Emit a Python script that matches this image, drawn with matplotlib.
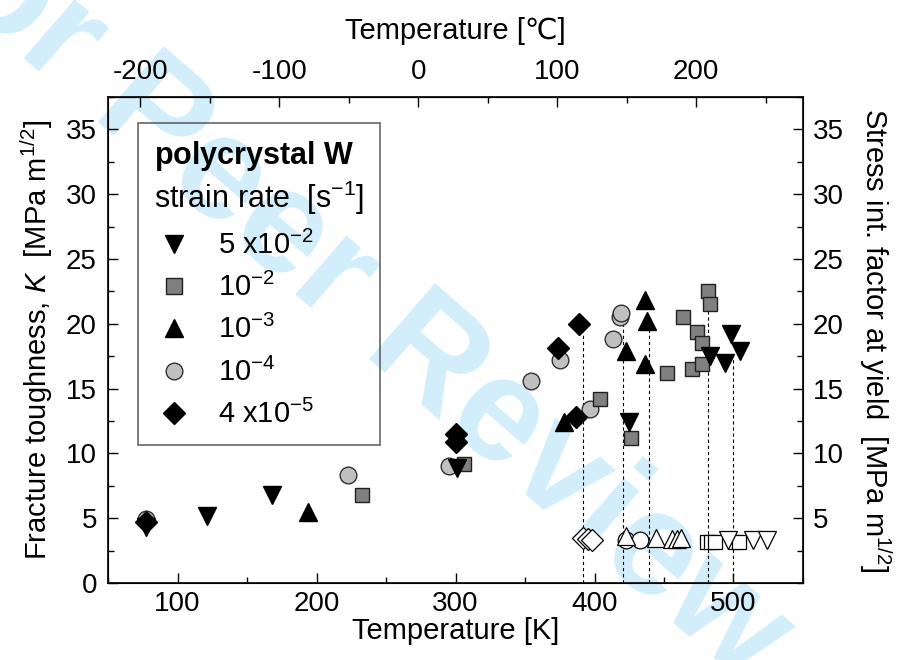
import numpy as np
import matplotlib
matplotlib.use("Agg")
import matplotlib.pyplot as plt
from matplotlib.lines import Line2D

plt.rcParams['font.family'] = ['Liberation Sans', 'DejaVu Sans']
plt.rcParams['mathtext.fontset'] = 'custom'
plt.rcParams['mathtext.rm'] = 'Liberation Sans'
plt.rcParams['mathtext.it'] = 'Liberation Sans:italic'
plt.rcParams['mathtext.bf'] = 'Liberation Sans:bold'
plt.rcParams['axes.unicode_minus'] = False

# fracture toughness K [MPa m^1/2] vs temperature [K], per strain rate
rates = ['5 x10$^{-2}$', '10$^{-2}$', '10$^{-3}$', '10$^{-4}$', '4 x10$^{-5}$']

T_5e2 = [77, 121, 168, 301, 425, 483, 494, 498, 505]
K_5e2 = [4.3, 5.2, 6.8, 8.9, 12.4, 17.5, 17.0, 19.2, 17.9]

T_1e2 = [233, 306, 404, 426, 452, 464, 474, 477, 470, 477, 482, 483]
K_1e2 = [6.8, 9.2, 14.2, 11.2, 16.2, 20.5, 19.4, 18.5, 16.5, 16.9, 22.5, 21.5]

T_1e3 = [194, 378, 423, 436, 438, 436]
K_1e3 = [5.5, 12.4, 17.9, 21.8, 20.2, 16.9]

T_1e4 = [77, 223, 295, 354, 375, 397, 413, 418, 419]
K_1e4 = [4.9, 8.3, 9.0, 15.6, 17.2, 13.4, 18.8, 20.5, 20.8]

T_4e5 = [77, 300, 300, 374, 387, 389]
K_4e5 = [4.7, 11.5, 10.9, 18.1, 12.8, 20.0]

# stress intensity factor at yield (right axis), open symbols
Ty_5e2 = [496, 514, 524]
Ky_5e2 = [3.3, 3.3, 3.3]
Ty_1e2 = [481, 484, 487, 501, 504]
Ky_1e2 = [3.2, 3.2, 3.2, 3.2, 3.2]
Ty_1e3 = [423, 444, 456, 459, 462]
Ky_1e3 = [3.6, 3.5, 3.4, 3.4, 3.5]
Ty_1e4 = [423, 433]
Ky_1e4 = [3.3, 3.3]
Ty_4e5 = [392, 395, 398]
Ky_4e5 = [3.5, 3.4, 3.3]

# dashed guide lines from yield temperatures up to the data
T_guide = [392, 420.5, 439, 482, 500]
K_guide = [19.4, 20.0, 19.7, 21.0, 17.3]

fig = plt.figure(figsize=(8.98, 6.6), dpi=100)
fig.text(0.375, 0.575, 'For Peer Review', rotation=-41, fontsize=106, fontweight='bold',
         color='#d3eefb', ha='center', va='center', zorder=-1)

ax = fig.add_axes([0.1203, 0.1167, 0.7739, 0.7363])
ax.patch.set_alpha(0)

for x, y in zip(T_guide, K_guide):
    ax.plot([x, x], [0, y], ls=(0, (3, 2.5)), color='k', lw=0.8, zorder=1)

ms = 13
ax.plot(T_1e4, K_1e4, 'o', ms=12, mfc='#c0c0c0', mec='#303030', mew=1, ls='none', zorder=3)
ax.plot(T_1e2, K_1e2, 's', ms=10.5, mfc='#808080', mec='#202020', mew=1, ls='none', zorder=3)
ax.plot(T_1e3, K_1e3, '^', ms=ms, color='k', ls='none', zorder=3)
ax.plot(T_5e2, K_5e2, 'v', ms=ms, color='k', ls='none', zorder=3)
ax.plot(T_4e5, K_4e5, 'D', ms=11, color='k', ls='none', zorder=3)

op = dict(mfc='white', mec='k', mew=0.9, ls='none', zorder=3)
ax.plot(Ty_4e5, Ky_4e5, 'D', ms=11, **op)
ax.plot(Ty_1e4, Ky_1e4, 'o', ms=12, **op)
ax.plot(Ty_1e3, Ky_1e3, '^', ms=ms, **op)
ax.plot(Ty_1e2, Ky_1e2, 's', ms=10.5, **op)
ax.plot(Ty_5e2, Ky_5e2, 'v', ms=ms, **op)

fs_tick = 20
fs_lab = 21

ax.set_xlim(50, 550)
ax.set_ylim(0, 37.5)
ax.set_xticks([100, 200, 300, 400, 500])
ax.set_xticks(np.arange(50, 551, 50), minor=True)
ax.set_yticks(np.arange(0, 36, 5))
ax.set_yticks(np.arange(0, 37.6, 2.5), minor=True)
ax.tick_params(which='both', direction='in', labelsize=fs_tick, width=1)
ax.tick_params(which='major', length=7)
ax.tick_params(which='minor', length=4)
ax.tick_params(axis='y', pad=8)
ax.tick_params(axis='x', pad=6)
ax.set_xlabel('Temperature [K]', fontsize=fs_lab, labelpad=0)
ax.set_ylabel('Fracture toughness, $K$  [MPa m$^{1/2}$]', fontsize=fs_lab, labelpad=8)
for s in ax.spines.values():
    s.set_linewidth(1.2)

# right axis: stress intensity factor at yield
axr = ax.twinx()
axr.set_ylim(0, 37.5)
axr.set_yticks(np.arange(5, 36, 5))
axr.set_yticks(np.arange(0, 37.6, 2.5), minor=True)
axr.tick_params(which='both', direction='in', labelsize=fs_tick, width=1, pad=7)
axr.tick_params(which='major', length=7)
axr.tick_params(which='minor', length=4)
axr.set_ylabel('Stress int. factor at yield  [MPa m$^{1/2}$]', fontsize=fs_lab,
               rotation=270, labelpad=36)

# top axis: Celsius
axt = ax.secondary_xaxis('top', functions=(lambda k: k - 273.15, lambda c: c + 273.15))
axt.set_xticks([-200, -100, 0, 100, 200])
axt.set_xticks(np.arange(-200, 251, 50), minor=True)
axt.tick_params(which='both', direction='in', labelsize=fs_tick, width=1, pad=9)
axt.tick_params(which='major', length=7)
axt.tick_params(which='minor', length=4)
axt.set_xlabel('Temperature [\u2103]', fontsize=fs_lab, labelpad=14)

handles = [
    Line2D([], [], marker='v', ms=ms, color='k', ls='none'),
    Line2D([], [], marker='s', ms=11, mfc='#808080', mec='#202020', ls='none'),
    Line2D([], [], marker='^', ms=ms, color='k', ls='none'),
    Line2D([], [], marker='o', ms=12, mfc='#c0c0c0', mec='#303030', ls='none'),
    Line2D([], [], marker='D', ms=11, color='k', ls='none'),
]
leg = ax.legend(handles, rates, loc='upper left', bbox_to_anchor=(0.043, 0.946),
                borderaxespad=0, alignment='left',
                title='$\\mathbf{polycrystal\\ W}$\nstrain rate  [s$^{-1}$]',
                fontsize=21, title_fontsize=22, frameon=True, fancybox=False,
                edgecolor='#404040', facecolor='none', borderpad=0.55,
                labelspacing=0.45, handletextpad=0.8, handlelength=1.4)
leg.get_frame().set_linewidth(1.2)

fig.savefig('out.png', dpi=100)
